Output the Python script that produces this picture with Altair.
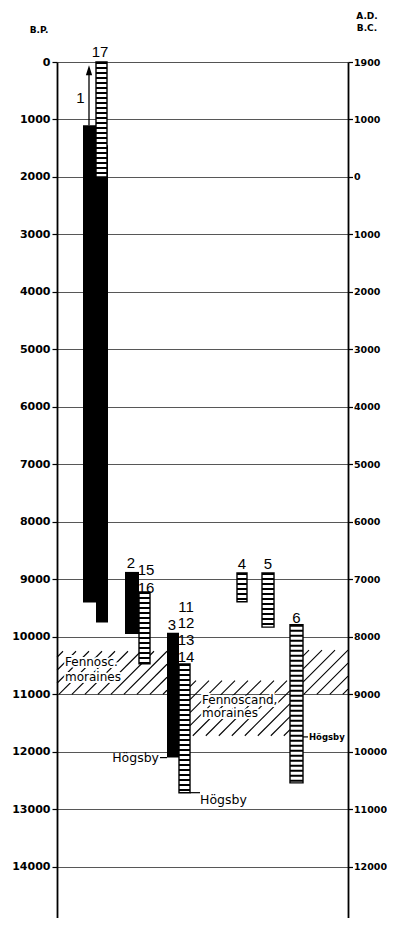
import altair as alt
import pandas as pd

# ---------------- data ----------------
Y_MAX = 14890          # years B.P. at bottom of plot
PLOT_W, PLOT_H = 291, 856

left_ticks = [0, 1000, 2000, 3000, 4000, 5000, 6000, 7000, 8000,
              9000, 10000, 11000, 12000, 13000, 14000]
right_labels = ["1900", "1000", "0", "1000", "2000", "3000", "4000", "5000",
                "6000", "7000", "8000", "9000", "10000", "11000", "12000"]

# black columns
black_x0 = [26, 39, 68, 110]
black_x1 = [40, 51, 82, 122]
black_top = [1100, 1450, 8870, 9930]
black_bot = [9400, 9750, 9950, 12100]

# ladder (striped) columns
ladder_x0 = [39, 82, 122, 180, 205, 233]
ladder_x1 = [50, 93, 133, 190, 217, 246]
ladder_top = [0, 9220, 10470, 8890, 8890, 9790]
ladder_bot = [2000, 10470, 12710, 9390, 9830, 12540]

# moraine zones (hatched)
zone_x0 = [0, 133, 246]
zone_x1 = [110, 233, 291]
zone_top = [10250, 10760, 10230]
zone_bot = [11000, 11720, 11000]

# column numbers
num_text = ["1", "17", "2", "15", "16", "3", "11", "12", "13", "14", "4", "5", "6"]
num_x = [23.5, 43, 74, 89, 89, 115, 129, 129, 129, 129, 185, 211, 239.5]
num_y = [713, -87, 8800, 8930, 9240, 9878, 9565, 9843, 10139, 10435, 8817, 8817, 9757]

# arrow on column 1
arrow_x = [32]
arrow_from = [1100]
arrow_to = [200]
arrow_head = [165]

# moraine labels
mor_text = ["Fennosc.", "moraines", "Fennoscand,", "moraines"]
mor_x = [8, 8, 145, 145]
mor_y = [10440, 10700, 11090, 11330]

# Högsby labels
hog_text = ["Högsby", "Högsby"]
hog_line_x0 = [103, 133]
hog_line_x1 = [110, 143]
hog_line_y = [12100, 12710]
hog_tx = [102, 143]
hog_ty = [12100, 12830]
hogs_text = ["Högsby"]
hogs_line_x0 = [246]
hogs_line_x1 = [251]
hogs_y = [11740]
hogs_tx = [252]

# ---------------- tables ----------------
black_df = pd.DataFrame({"x0": black_x0, "x1": black_x1, "top": black_top, "bot": black_bot})
ladder_df = pd.DataFrame({"x0": ladder_x0, "x1": ladder_x1, "top": ladder_top, "bot": ladder_bot})
ladder_df["xm"] = (ladder_df.x0 + ladder_df.x1) / 2
ladder_df["w"] = ladder_df.x1 - ladder_df.x0
num_df = pd.DataFrame({"t": num_text, "x": num_x, "y": num_y})
arrow_df = pd.DataFrame({"x": arrow_x, "a": arrow_from, "b": arrow_to, "h": arrow_head})
mor_df = pd.DataFrame({"t": mor_text, "x": mor_x, "y": mor_y})
hogl_df = pd.DataFrame({"x0": hog_line_x0 + hogs_line_x0, "x1": hog_line_x1 + hogs_line_x1,
                        "y": hog_line_y + hogs_y})
hog_df = pd.DataFrame({"t": hog_text, "x": hog_tx, "y": hog_ty})
hogs_df = pd.DataFrame({"t": hogs_text, "x": hogs_tx, "y": hogs_y})

# hatch strokes for the moraine zones (fill pattern, 45 degrees, 13 px apart)
s = PLOT_H / Y_MAX
hatch = []
for x0, x1, t, b in zip(zone_x0, zone_x1, zone_top, zone_bot):
    y0p, y1p = t * s, b * s
    c = x0 + y0p + 6
    while c < x1 + y1p:
        xa = max(x0, c - y1p)
        xb = min(x1, c - y0p)
        if xb - xa > 1:
            hatch.append({"xa": xa, "ya": (c - xa) / s, "xb": xb, "yb": (c - xb) / s})
        c += 13
hatch_df = pd.DataFrame(hatch)

# ---------------- scales ----------------
xs = alt.Scale(domain=[0, PLOT_W], nice=False, zero=False)
ys = alt.Scale(domain=[0, Y_MAX], reverse=True, nice=False, zero=False)
FONT_NUM = "Liberation Sans"
FONT = "DejaVu Sans"

left_axis = alt.Axis(values=left_ticks, format="d", orient="left", title=None,
                     grid=True, gridColor="#444", gridWidth=0.9,
                     domainColor="black", domainWidth=1.8, tickColor="black",
                     tickSize=5, tickWidth=1.2, labelFont=FONT, labelFontSize=11,
                     labelFontWeight="bold", labelColor="black", labelPadding=2)
right_expr = "[" + ",".join("'%s'" % v for v in right_labels) + "][round(datum.value/1000)]"
right_axis = alt.Axis(values=left_ticks, labelExpr=right_expr, orient="right", title=None,
                      grid=False, domainColor="black", domainWidth=1.8, tickColor="black",
                      tickSize=4.5, tickWidth=1.2, labelFont=FONT, labelFontSize=9.5,
                      labelFontWeight="bold", labelColor="black", labelPadding=1)

hatch_layer = alt.Chart(hatch_df).mark_rule(color="black", strokeWidth=1.1).encode(
    x=alt.X("xa:Q", scale=xs, axis=None), x2="xb:Q",
    y=alt.Y("ya:Q", scale=ys, axis=left_axis), y2="yb:Q")

mor_halo = alt.Chart(mor_df).mark_text(font=FONT, fontSize=12, align="left", baseline="middle",
                                       stroke="white", strokeWidth=4, color="white").encode(
    x=alt.X("x:Q", scale=xs, axis=None), y=alt.Y("y:Q", scale=ys, axis=None), text="t:N")
mor_txt = alt.Chart(mor_df).mark_text(font=FONT, fontSize=12, align="left", baseline="middle",
                                      color="black").encode(
    x=alt.X("x:Q", scale=xs, axis=None), y=alt.Y("y:Q", scale=ys, axis=None), text="t:N")

black_layer = alt.Chart(black_df).mark_rect(color="black").encode(
    x=alt.X("x0:Q", scale=xs, axis=None), x2="x1:Q",
    y=alt.Y("top:Q", scale=ys, axis=None), y2="bot:Q")

ladder_box = alt.Chart(ladder_df).mark_rect(fill="white", stroke="black", strokeWidth=1.4).encode(
    x=alt.X("x0:Q", scale=xs, axis=None), x2="x1:Q",
    y=alt.Y("top:Q", scale=ys, axis=None), y2="bot:Q")
ladder_rungs = alt.Chart(ladder_df).mark_rule(color="black", strokeDash=[2, 3]).encode(
    x=alt.X("xm:Q", scale=xs, axis=None),
    y=alt.Y("top:Q", scale=ys, axis=None), y2="bot:Q",
    strokeWidth=alt.StrokeWidth("w:Q", scale=None))

arrow_shaft = alt.Chart(arrow_df).mark_rule(color="black", strokeWidth=1.3).encode(
    x=alt.X("x:Q", scale=xs, axis=None),
    y=alt.Y("a:Q", scale=ys, axis=None), y2="b:Q")
arrow_tip = alt.Chart(arrow_df).mark_point(shape="M0,-1L0.5,0.6L-0.5,0.6Z", size=156,
                                           filled=True, color="black", opacity=1).encode(
    x=alt.X("x:Q", scale=xs, axis=None), y=alt.Y("h:Q", scale=ys, axis=None))

num_layer = alt.Chart(num_df).mark_text(font=FONT_NUM, fontSize=15, align="center",
                                        baseline="alphabetic", color="black").encode(
    x=alt.X("x:Q", scale=xs, axis=None), y=alt.Y("y:Q", scale=ys, axis=None), text="t:N")

hog_lines = alt.Chart(hogl_df).mark_rule(color="black", strokeWidth=1.2).encode(
    x=alt.X("x0:Q", scale=xs, axis=None), x2="x1:Q",
    y=alt.Y("y:Q", scale=ys, axis=None))
hog_l = alt.Chart(hog_df.iloc[[0]]).mark_text(font=FONT, fontSize=12.5, align="right",
                                              baseline="middle", color="black").encode(
    x=alt.X("x:Q", scale=xs, axis=None), y=alt.Y("y:Q", scale=ys, axis=None), text="t:N")
hog_b = alt.Chart(hog_df.iloc[[1]]).mark_text(font=FONT, fontSize=12.5, align="left",
                                              baseline="middle", color="black").encode(
    x=alt.X("x:Q", scale=xs, axis=None), y=alt.Y("y:Q", scale=ys, axis=None), text="t:N")
hog_s = alt.Chart(hogs_df).mark_text(font=FONT, fontSize=8.5, fontWeight="bold", align="left",
                                     baseline="middle", color="black").encode(
    x=alt.X("x:Q", scale=xs, axis=None), y=alt.Y("y:Q", scale=ys, axis=None), text="t:N")

right_axis_layer = alt.Chart(pd.DataFrame({"v": [0]})).mark_point(opacity=0).encode(
    y=alt.Y("v:Q", scale=ys, axis=right_axis))

titles = alt.Chart(pd.DataFrame({"t": ["B.P.", "A.D.", "B.C."],
                                 "px": [-18, 310, 310], "py": [-32, -46, -34]})).mark_text(
    font=FONT, fontSize=9, fontWeight="bold", align="center", baseline="middle", color="black"
).encode(x=alt.X("px:Q", scale=None), y=alt.Y("py:Q", scale=None), text="t:N")

chart = alt.layer(
    hatch_layer, mor_halo, mor_txt, black_layer, ladder_box, ladder_rungs,
    arrow_shaft, arrow_tip, num_layer, hog_lines, hog_l, hog_b, hog_s,
    right_axis_layer, titles
).resolve_scale(y="independent").properties(
    width=PLOT_W, height=PLOT_H,
    padding={"left": 49, "top": 54, "right": 39, "bottom": 0},
    autosize=alt.AutoSizeParams(type="none"),
).configure_view(stroke=None).configure(background="white")

chart.save("out.html", embed_options={"renderer": "svg", "actions": False})
